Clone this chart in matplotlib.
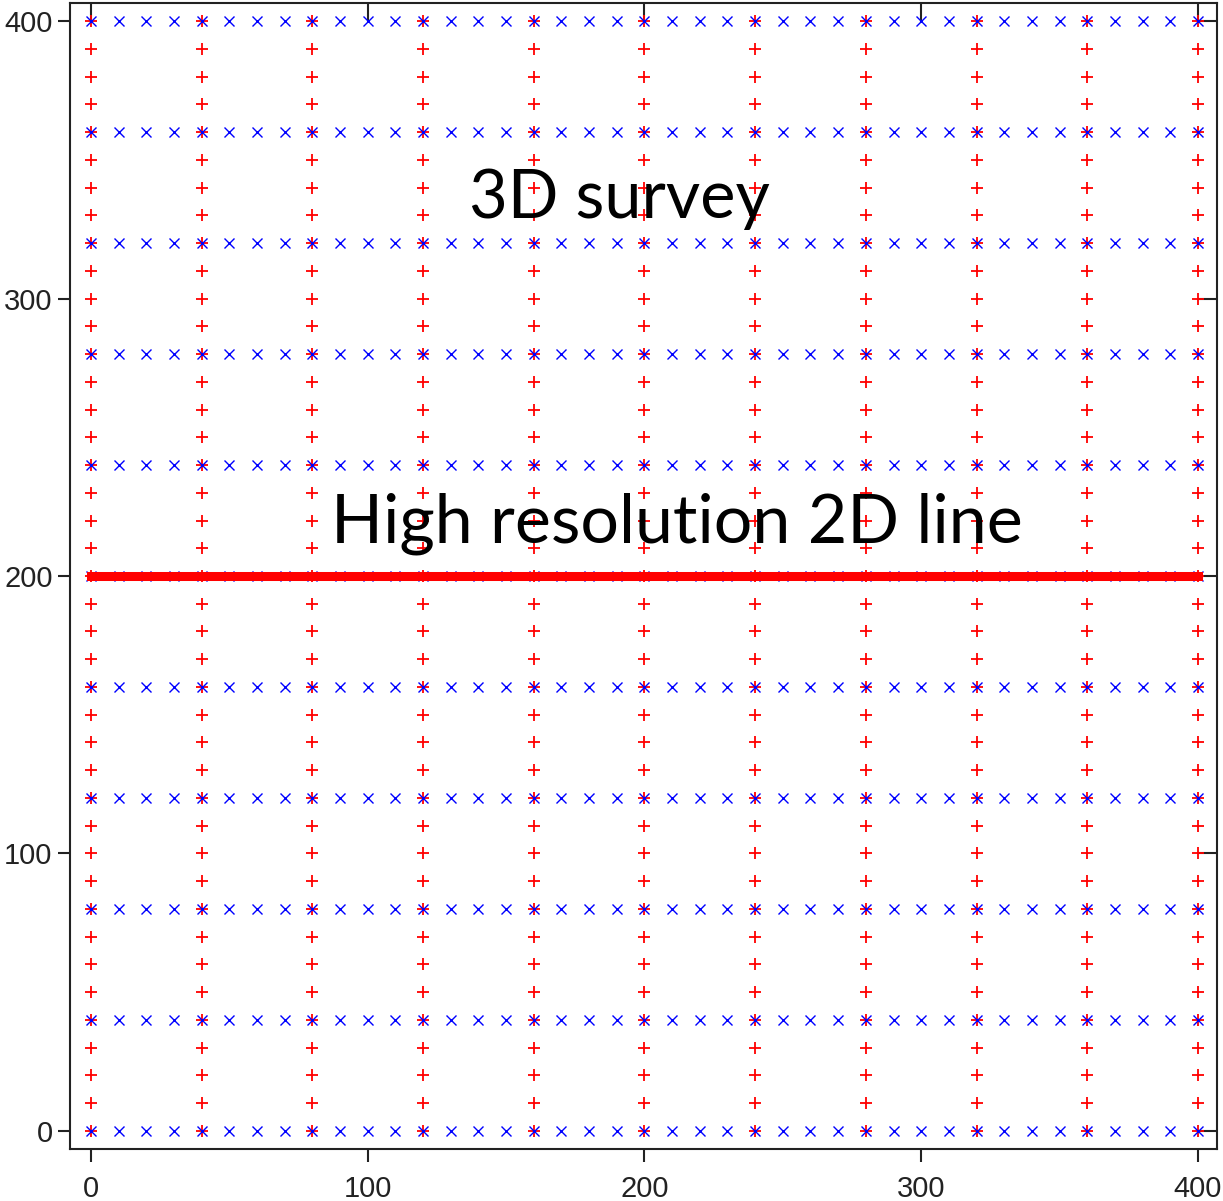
import numpy as np
import matplotlib.pyplot as plt

# survey layout (m)
receiver_lines = [0, 40, 80, 120, 160, 200, 240, 280, 320, 360, 400]   # x of receiver lines
source_lines = [0, 40, 80, 120, 160, 200, 240, 280, 320, 360, 400]     # y of source lines
stations = [0, 10, 20, 30, 40, 50, 60, 70, 80, 90, 100, 110, 120, 130, 140,
            150, 160, 170, 180, 190, 200, 210, 220, 230, 240, 250, 260, 270,
            280, 290, 300, 310, 320, 330, 340, 350, 360, 370, 380, 390, 400]
line_2d_y = 200
line_2d_x = [0, 400]
ticks = [0, 100, 200, 300, 400]

rx, ry = np.meshgrid(receiver_lines, stations)
sx, sy = np.meshgrid(stations, source_lines)

fig = plt.figure(figsize=(12.23, 12.01), dpi=100)
ax = fig.add_axes([0.0572, 0.0433, 0.9379, 0.9542])

ax.plot(rx.ravel(), ry.ravel(), ls="none", marker="+", color="red",
        markersize=8.5, markeredgewidth=1.3, zorder=2)
ax.plot(sx.ravel(), sy.ravel(), ls="none", marker="x", color="blue",
        markersize=7, markeredgewidth=1.0, zorder=3)
ax.plot(line_2d_x, [line_2d_y, line_2d_y], color="red", lw=6.5,
        solid_capstyle="projecting", zorder=4)

ax.text(190.8, 329.0, "3D survey", ha="center", va="baseline",
        fontsize=48, family="Lato", color="black")
ax.text(211.6, 211.9, "High resolution 2D line", ha="center", va="baseline",
        fontsize=49, family="Lato", color="black")

ax.set_xlim(-7.6, 406.9)
ax.set_ylim(-6.5, 406.5)
ax.set_xticks(ticks)
ax.set_yticks(ticks)

for side in ax.spines.values():
    side.set_linewidth(1.5)
    side.set_color("#222222")

ax.tick_params(axis="both", direction="out", length=9, width=1.5,
               color="#222222", labelsize=21, labelcolor="#222222",
               labelfontfamily="Liberation Sans")
ax.tick_params(axis="x", pad=10)
ax.tick_params(axis="y", pad=3.5)

# inward ticks on the top and right edges
top = ax.secondary_xaxis("top")
top.set_xticks(ticks)
top.tick_params(direction="in", length=14, width=1.5, color="#222222",
                labeltop=False)
right = ax.secondary_yaxis("right")
right.set_yticks(ticks)
right.tick_params(direction="in", length=14, width=1.5, color="#222222",
                  labelright=False)
top.spines["top"].set_visible(False)
right.spines["right"].set_visible(False)

fig.savefig("out.png", dpi=100)
